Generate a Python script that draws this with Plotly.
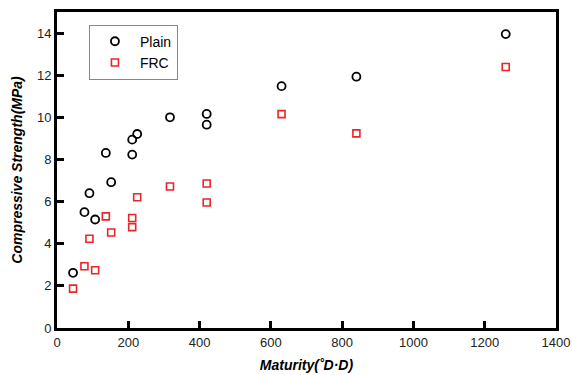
import plotly.graph_objects as go

maturity = [45, 77, 91, 107, 137, 152, 211, 211, 225, 317, 420, 420, 630, 840, 1259]
plain = [2.62, 5.5, 6.4, 5.15, 8.31, 6.92, 8.23, 8.94, 9.21, 10.0, 10.16, 9.65, 11.48, 11.93, 13.95]
frc = [1.87, 2.93, 4.24, 2.74, 5.3, 4.53, 5.22, 4.79, 6.21, 6.72, 6.86, 5.96, 10.15, 9.24, 12.39]

x_ticks = [0, 200, 400, 600, 800, 1000, 1200, 1400]
y_ticks = [0, 2, 4, 6, 8, 10, 12, 14]

fig = go.Figure()
fig.add_trace(go.Scatter(
    x=maturity, y=plain, mode="markers", name="Plain",
    marker=dict(symbol="circle-open", size=8, color="black", line=dict(width=1.8, color="black")),
))
fig.add_trace(go.Scatter(
    x=maturity, y=frc, mode="markers", name="FRC",
    marker=dict(symbol="square-open", size=7, color="#e8262a", line=dict(width=1.6, color="#e8262a")),
))

axis_common = dict(
    showline=True, linewidth=3, linecolor="black", mirror=True,
    ticks="inside", ticklen=7, tickwidth=3, tickcolor="black",
    showgrid=False, zeroline=False, automargin=False,
    tickfont=dict(family="Liberation Sans, Arial", size=13, color="#222"),
)

fig.update_layout(
    width=572, height=375,
    margin=dict(l=57, r=16, t=12, b=47),
    paper_bgcolor="white", plot_bgcolor="white",
    showlegend=True,
    legend=dict(
        x=0.064, y=0.96, xanchor="left", yanchor="top",
        bordercolor="#888", borderwidth=1, bgcolor="white",
        font=dict(family="Liberation Sans, Arial", size=14, color="black"),
        itemwidth=40, tracegroupgap=0,
    ),
    xaxis=dict(
        range=[0, 1400], tickvals=x_ticks,
        title=dict(text="<b><i>Maturity(˚D·D)</i></b>", standoff=12,
                   font=dict(family="Liberation Sans, Arial", size=14, color="black")),
        **axis_common,
    ),
    yaxis=dict(
        range=[0, 15], tickvals=y_ticks,
        title=dict(text="<b><i>Compressive Strength(MPa)</i></b>", standoff=12,
                   font=dict(family="Liberation Sans, Arial", size=14, color="black")),
        **axis_common,
    ),
)

fig.write_html("out.html")
